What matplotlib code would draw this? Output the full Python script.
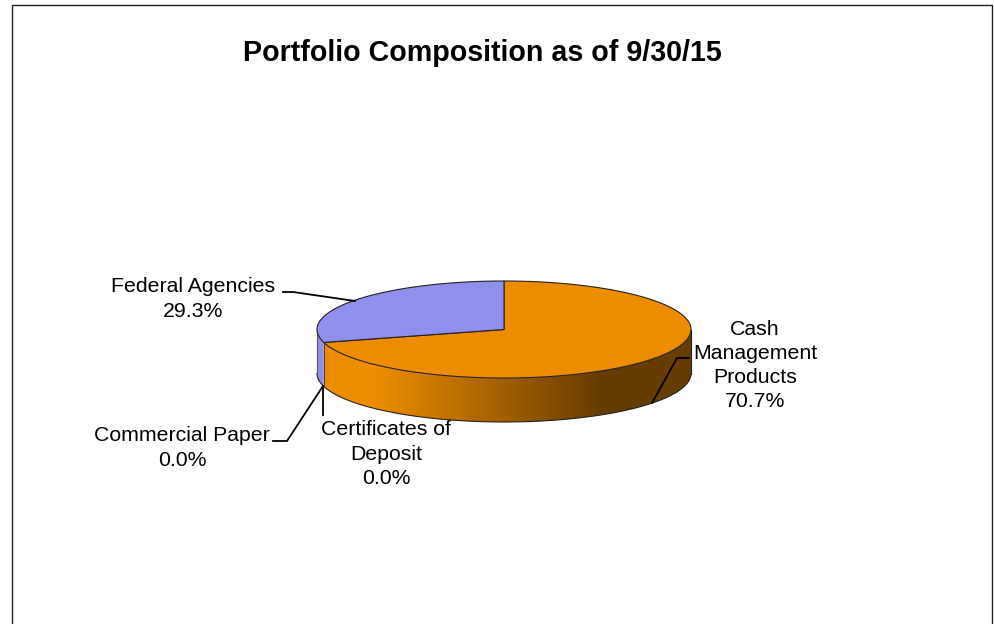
import numpy as np
import matplotlib
matplotlib.use('Agg')
import matplotlib.pyplot as plt
from matplotlib.colors import LinearSegmentedColormap
from matplotlib.patches import Polygon

plt.rcParams['font.family'] = ['Liberation Sans', 'DejaVu Sans']

title = 'Portfolio Composition as of 9/30/15'
categories = ['Cash\nManagement\nProducts', 'Certificates of\nDeposit', 'Commercial Paper', 'Federal Agencies']
values = [70.7, 0.0, 0.0, 29.3]
top_colors = ['#EE8C00', '#EE8C00', '#8F8FEE', '#8F8FEE']

# label placement in pixels
label_pos = [(755, 365.5), (386, 454), (182, 448), (193, 299)]
leaders = [
    [(689, 358), (677, 358), (652, 403)],
    [(323, 415), (323, 386)],
    [(273, 441), (287, 441), (323, 386)],
    [(283, 292), (293, 292), (355, 301)],
]

cx, cy, rx, ry, depth = 504, 329.5, 187, 48.5, 44


def ell(deg, dy=0):
    t = np.radians(deg)
    return np.column_stack([cx + rx * np.cos(t), cy - ry * np.sin(t) + dy])


fig = plt.figure(figsize=(9.95, 6.24), dpi=100)
ax = fig.add_axes([0, 0, 1, 1])
ax.axis('off')

# outer frame, bottom edge falls off the picture
ax.plot([11.5, 11.5, 992, 992], [640, 4.5, 4.5, 640], color='#222222', lw=1.0)

# side wall, only the front half of each slice shows
shade = LinearSegmentedColormap.from_list(
    'shade', [(0, '#EE8C00'), (0.16, '#EE8C00'), (0.76, '#663C00'), (1, '#663C00')])
start = 90.0
for val, col in zip(values, top_colors):
    end = start - val * 3.6
    if val > 0 and start > -180:
        a = np.linspace(min(start, 0), max(end, -180), 200)
        poly = np.vstack([ell(a), ell(a[::-1], depth)])
        if col == '#EE8C00':
            p = Polygon(poly, closed=True, fc='none', ec='none')
            ax.add_patch(p)
            g = np.linspace(0, 1, 256).reshape(1, -1)
            im = ax.imshow(g, cmap=shade, extent=[cx - rx, cx + rx, cy + ry + depth, cy], aspect='auto', zorder=1)
            im.set_clip_path(p)
        else:
            ax.add_patch(Polygon(poly, closed=True, fc=col, ec='none', zorder=1))
    start = end

# bottom edge and vertical outlines of the wall
ax.plot(*ell(np.linspace(-180, 0, 200), depth).T, color='#222222', lw=0.8, zorder=2)
ax.plot([cx - rx, cx - rx], [cy, cy + depth], color='#555555', lw=0.8, zorder=2)
ax.plot([cx + rx, cx + rx], [cy, cy + depth], color='#222222', lw=0.8, zorder=2)

# top face
start = 90.0
for val, col in zip(values, top_colors):
    end = start - val * 3.6
    if val > 0:
        a = np.linspace(start, end, 200)
        poly = np.vstack([[cx, cy], ell(a)])
        ax.add_patch(Polygon(poly, closed=True, fc=col, ec='#222222', lw=0.8, zorder=3))
    start = end

# seam on the wall where the slices meet
seam = ell(np.array([90.0 - values[0] * 3.6]))[0]
ax.plot([seam[0], seam[0]], [seam[1], seam[1] + depth], color='#333333', lw=0.6, zorder=2)

for pts in leaders:
    xs, ys = zip(*pts)
    ax.plot(xs, ys, color='black', lw=1.3, zorder=4, solid_joinstyle='miter')

for name, val, (x, y) in zip(categories, values, label_pos):
    ax.text(x, y, f'{name}\n{val:.1f}%', ha='center', va='center', fontsize=15.3,
            color='black', linespacing=1.34, zorder=5)

ax.text(482, 53, title, ha='center', va='center', fontsize=20.6, fontweight='bold', color='black')

ax.set_xlim(0, 995)
ax.set_ylim(624, 0)
fig.savefig('out.png', dpi=100, facecolor='white')
